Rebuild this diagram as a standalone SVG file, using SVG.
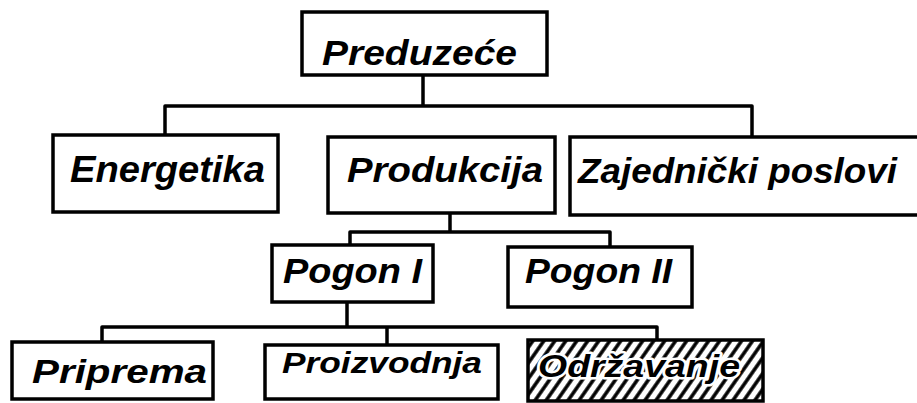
<svg xmlns="http://www.w3.org/2000/svg" width="917" height="403" viewBox="0 0 917 403">
  <style>
    .box { fill: #ffffff; stroke: #000000; stroke-width: 3.5; }
    .line { fill: none; stroke: #000000; stroke-width: 3.5; stroke-linejoin: round; }
    .lbl { font-family: "Liberation Sans", Arial, sans-serif; font-style: italic; font-weight: bold; fill: #000000; }
    .halo { stroke: #ffffff; stroke-width: 5; paint-order: stroke; stroke-linejoin: round; }
  </style>
  <defs>
    <pattern id="hatch" patternUnits="userSpaceOnUse" width="9" height="9" patternTransform="rotate(35)">
      <rect width="9" height="9" fill="#ffffff"/>
      <line x1="2" y1="0" x2="2" y2="9" stroke="#000000" stroke-width="3.5"/>
    </pattern>
  </defs>

  <!-- connectors -->
  <g id="connectors">
    <path class="line" d="M423,75 V106"/>
    <path class="line" d="M165,135 V106 H752 V137"/>
    <path class="line" d="M450,213 V232"/>
    <path class="line" d="M350,245 V232 H610 V247"/>
    <path class="line" d="M347,302 V327"/>
    <path class="line" d="M102,342 V327 H657 V340"/>
    <path class="line" d="M387,327 V345"/>
  </g>

  <!-- top level -->
  <g id="preduzece">
    <rect class="box" x="302" y="12" width="245" height="63"/>
    <text class="lbl" x="322" y="65" font-size="35" textLength="195" lengthAdjust="spacingAndGlyphs">Preduzeće</text>
  </g>

  <!-- second level -->
  <g id="energetika">
    <rect class="box" x="53" y="135" width="225" height="77"/>
    <text class="lbl" x="70" y="182" font-size="36" textLength="195" lengthAdjust="spacingAndGlyphs">Energetika</text>
  </g>
  <g id="produkcija">
    <rect class="box" x="328" y="137" width="227" height="76"/>
    <text class="lbl" x="347" y="182" font-size="35" textLength="196" lengthAdjust="spacingAndGlyphs">Produkcija</text>
  </g>
  <g id="zajednicki-poslovi">
    <rect class="box" x="570" y="137" width="360" height="78"/>
    <text class="lbl" x="578" y="183" font-size="35" textLength="319" lengthAdjust="spacingAndGlyphs">Zajednički poslovi</text>
  </g>

  <!-- third level -->
  <g id="pogon-1">
    <rect class="box" x="272" y="245" width="161" height="57"/>
    <text class="lbl" x="283" y="283" font-size="35" textLength="139" lengthAdjust="spacingAndGlyphs">Pogon I</text>
  </g>
  <g id="pogon-2">
    <rect class="box" x="508" y="247" width="184" height="60"/>
    <text class="lbl" x="525" y="283" font-size="35" textLength="147" lengthAdjust="spacingAndGlyphs">Pogon II</text>
  </g>

  <!-- fourth level -->
  <g id="priprema">
    <rect class="box" x="12" y="342" width="201" height="57"/>
    <text class="lbl" x="32" y="383" font-size="33" textLength="175" lengthAdjust="spacingAndGlyphs">Priprema</text>
  </g>
  <g id="proizvodnja">
    <rect class="box" x="265" y="345" width="233" height="54"/>
    <text class="lbl" x="282" y="373" font-size="30" textLength="200" lengthAdjust="spacingAndGlyphs">Proizvodnja</text>
  </g>
  <g id="odrzavanje">
    <rect class="box" x="528" y="340" width="235" height="61" fill="url(#hatch)" style="fill:url(#hatch)"/>
    <text class="lbl halo" x="538" y="377" font-size="32" textLength="202" lengthAdjust="spacingAndGlyphs">Održavanje</text>
  </g>
</svg>
